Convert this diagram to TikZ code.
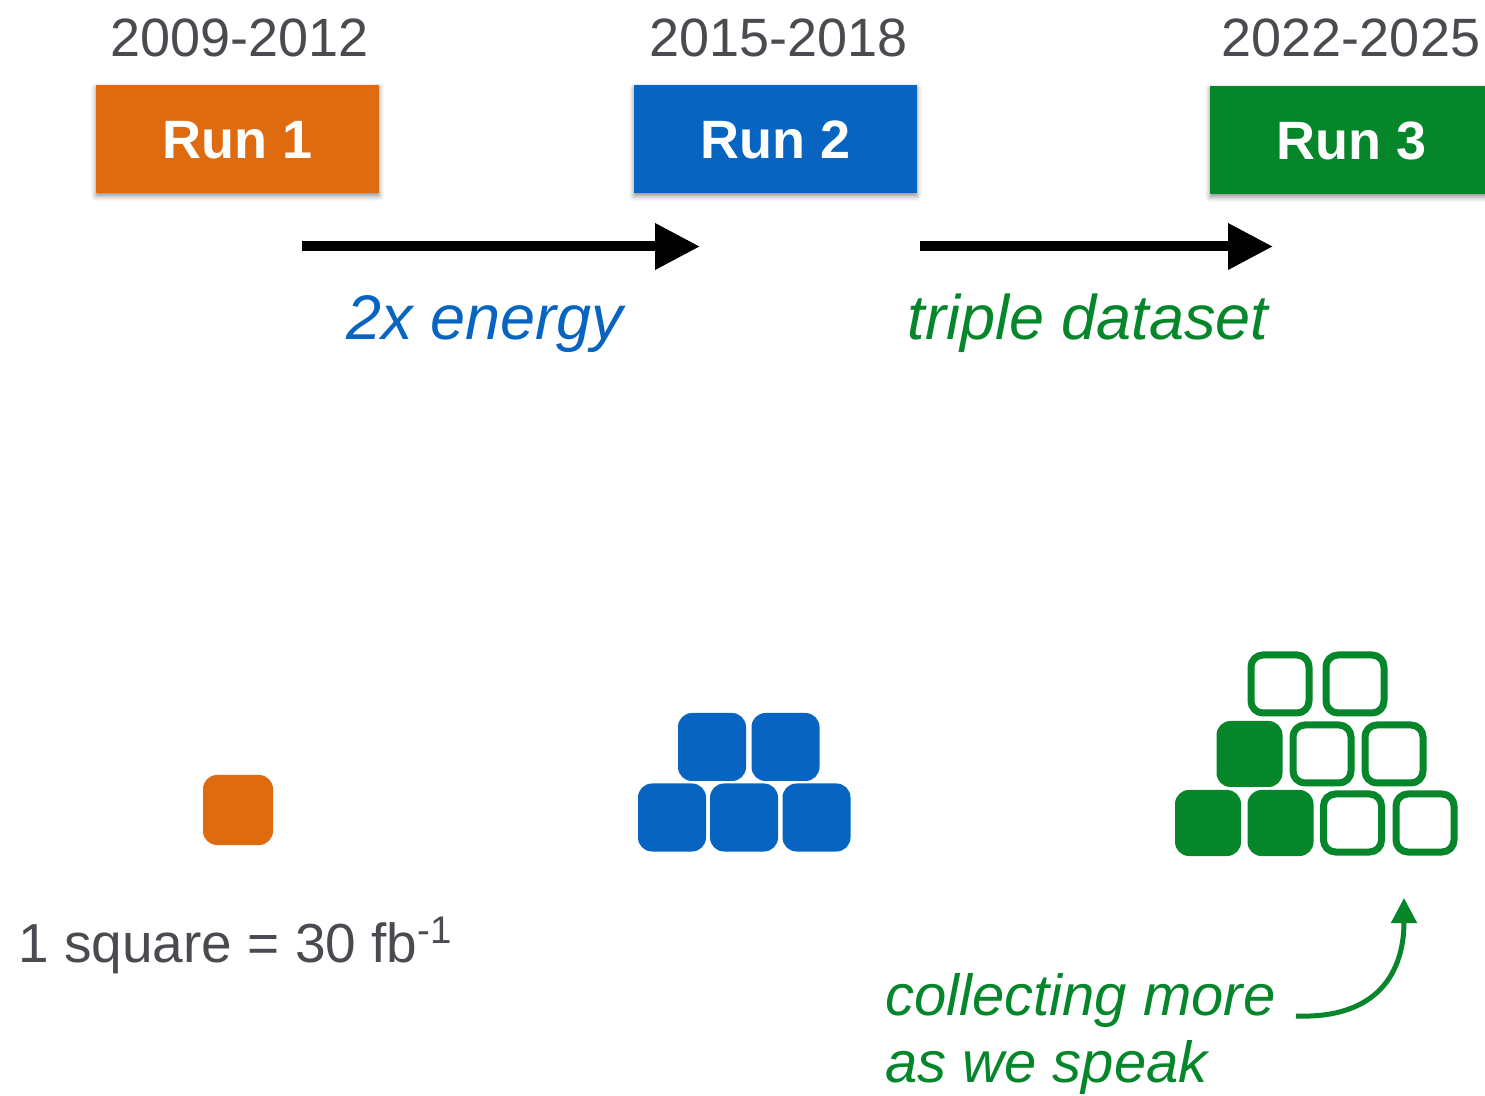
\documentclass[tikz,border=0pt]{standalone}
\usepackage{fontspec}
\setmainfont{Liberation Sans}
\usetikzlibrary{arrows.meta,shadows.blur}

\definecolor{runorange}{RGB}{222,107,16}
\definecolor{runblue}{RGB}{7,101,193}
\definecolor{rungreen}{RGB}{5,134,42}
\definecolor{textgray}{RGB}{74,75,80}

\tikzset{
  runbox/.style={minimum width=141.5pt, minimum height=54pt, inner sep=0pt,
    text=white, font=\fontsize{27}{30}\selectfont\bfseries,
    text height=19.8pt, text depth=0pt,
    blur shadow={shadow xshift=0pt, shadow yshift=-1.5pt, shadow blur radius=2.5pt, shadow opacity=45}},
  years/.style={anchor=base, text=textgray, font=\fontsize{27}{30}\selectfont},
  note/.style={anchor=base, font=\fontsize{31.5}{34}\selectfont\itshape},
  bigarrow/.style={line width=5pt, -{Triangle[length=22.5pt,width=22pt]}},
  fullsq/.style={minimum size=#1, inner sep=0pt, rounded corners=7pt},
  fullsq/.default=34pt,
  opensq/.style={draw=rungreen, line width=3.5pt, minimum size=29pt, inner sep=0pt, rounded corners=6pt},
}

\begin{document}
\begin{tikzpicture}[x=0.5pt,y=-0.5pt]
\useasboundingbox (0,0) rectangle (1485,1096);
\clip (0,0) rectangle (1485,1096);

% run periods
\node[years] (y1) at (239.5,57) {2009-2012};
\node[years] (y2) at (778.5,57) {2015-2018};
\node[years] (y3) at (1351,57) {2022-2025};

\node[runbox, fill=runorange] (r1) at (237.5,139) {Run 1};
\node[runbox, fill=runblue]   (r2) at (775.5,139) {Run 2};
\node[runbox, fill=rungreen]  (r3) at (1351.5,140) {Run 3};

% transitions
\coordinate (a1s) at (302,246.5);
\coordinate (a1e) at (700,246.5);
\coordinate (a2s) at (920,246.5);
\coordinate (a2e) at (1273,246.5);
\draw[bigarrow] (a1s) -- (a1e);
\draw[bigarrow] (a2s) -- (a2e);

\node[note, text=runblue]  (l1) at (485,340) {2x energy};
\node[note, text=rungreen] (l2) at (1088,340) {triple dataset};

% luminosity squares
\node[fullsq=35pt, fill=runorange] (o1) at (238,810) {};

\node[fullsq, fill=runblue] (b1) at (672,817.5) {};
\node[fullsq, fill=runblue] (b2) at (744,817.5) {};
\node[fullsq, fill=runblue] (b3) at (816.5,817.5) {};
\node[fullsq, fill=runblue] (b4) at (712,747) {};
\node[fullsq, fill=runblue] (b5) at (785.5,747) {};

\node[fullsq=33pt, fill=rungreen] (g1) at (1208,823) {};
\node[fullsq=33pt, fill=rungreen] (g2) at (1280.5,823) {};
\node[opensq] (g3) at (1352.5,823) {};
\node[opensq] (g4) at (1425,823) {};
\node[fullsq=33pt, fill=rungreen] (g5) at (1249.5,754) {};
\node[opensq] (g6) at (1322,754) {};
\node[opensq] (g7) at (1394,754) {};
\node[opensq] (g8) at (1280,684) {};
\node[opensq] (g9) at (1355,684) {};

% legend
\node[anchor=base west, text=textgray, font=\fontsize{27.5}{30}\selectfont, inner sep=0pt]
  (leg) at (18,962) {1 square = 30 fb\textsuperscript{-1}};

\node[anchor=base west, text=rungreen, align=left, inner sep=0pt,
  font=\fontsize{29}{33.5}\selectfont\itshape]
  (more) at (885,1082) {collecting more\\as we speak};

\coordinate (c1) at (1296,1016);
\coordinate (c2) at (1404,898);
\draw[rungreen, line width=2.5pt, -{Triangle[length=12.5pt,width=12.5pt]}]
  (c1) .. controls (1378,1019) and (1404,972) .. (c2);
\end{tikzpicture}
\end{document}
